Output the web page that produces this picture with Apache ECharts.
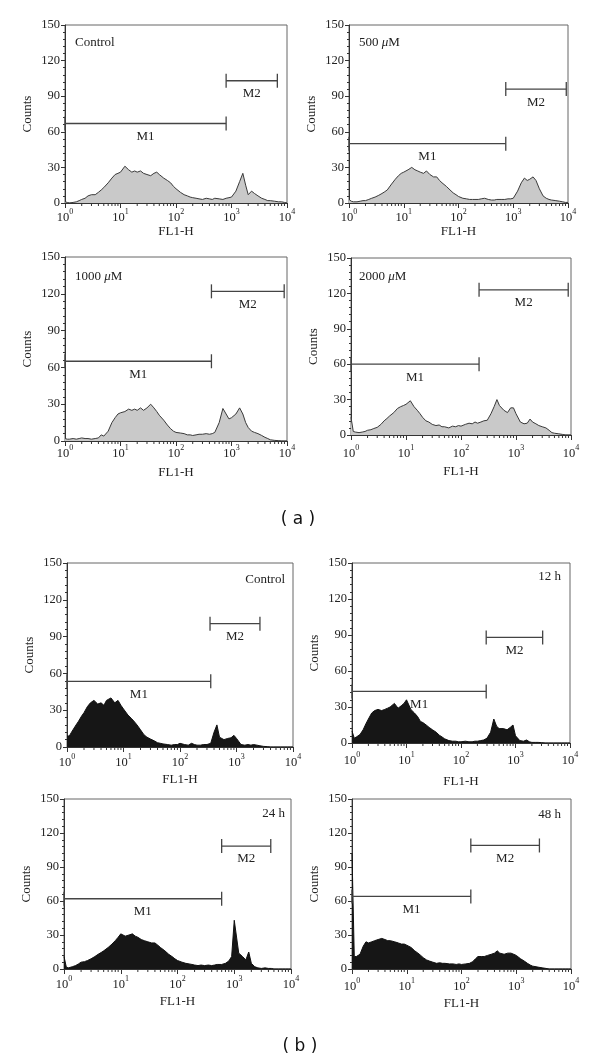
<!DOCTYPE html>
<html><head><meta charset="utf-8">
<script src="https://cdn.jsdelivr.net/npm/echarts@6/dist/echarts.min.js"></script>
<style>html,body{margin:0;padding:0;background:#fff}#c{width:600px;height:1063px}</style>
</head><body><div id="c"></div>
<script>
// FL1-H channel positions (x values of the histogram points)
const channels = [1, 1.1, 1.2, 1.4, 1.6, 1.8, 2, 2.3, 2.6, 3, 3.5, 4, 4.5, 5, 6, 7, 8, 9,
  10, 12, 14, 16, 18, 20, 23, 26, 30, 35, 40, 45, 50, 60, 70, 80, 90,
  100, 120, 140, 160, 180, 200, 230, 260, 300, 350, 400, 450, 500, 600, 700, 800, 900,
  1000, 1200, 1400, 1600, 1800, 2000, 2300, 2600, 3000, 3500, 4000, 4500, 5000, 6000, 7000, 8000, 9000,
  10000];

// (a) panels
const countsControlA = [1, 0.5, 0, 0.5, 1, 2, 3, 4, 6, 7, 7, 9, 11, 13, 17, 21, 24, 25,
  26, 31, 28, 26, 27, 26, 27, 25, 24, 23, 25, 26, 24, 21, 19, 17, 14,
  12, 9, 7, 6, 5, 4.5, 4, 3.5, 3, 4, 3.5, 3, 4, 3.5, 3, 4, 4.5,
  5, 10, 18, 25, 15, 7, 10, 8, 6, 4, 3, 2, 2, 1.5, 1, 1, 0.5,
  0];
const counts500uM = [3, 1.5, 1, 1, 1.5, 2, 2, 3, 4, 5, 6.5, 8, 9.5, 11, 16, 20, 23, 25,
  26, 28, 30, 28, 27, 26, 25, 27, 24, 22, 22, 19, 17, 14, 11, 8.5, 7,
  5.5, 4, 3.5, 3, 3, 3, 3, 3.5, 4, 3, 2.5, 2.5, 3, 3, 3, 3.5, 3.5,
  4, 10, 17, 21, 19, 20, 22, 19, 12, 6, 4, 3, 2.5, 2, 1.5, 1, 0.5,
  0.5];
const counts1000uM = [2, 1.5, 1.5, 2, 1.5, 2, 2.5, 2, 2, 1.5, 2, 2.5, 5, 4, 8, 15, 19, 22,
  23, 24, 26, 25, 26, 25, 27, 25, 27, 30, 27, 24, 21, 17, 13, 10, 8,
  7, 6.5, 6, 5, 5, 4.5, 5, 5.5, 5.5, 6, 5.5, 6, 7, 15, 26.5, 22, 18,
  19, 22, 27, 22, 15, 11, 8, 7, 6, 4.5, 3, 2, 1, 0.5, 0.3, 0, 0,
  0];
const counts2000uM = [15, 3, 2.5, 2, 2.5, 3, 4, 4.5, 5.5, 6.5, 9, 12, 14, 16, 19, 22.5, 24, 25,
  26, 29, 24, 21, 18, 15, 12, 11, 9, 8, 8.5, 7, 7, 6, 7.5, 7, 8,
  7.5, 9, 10, 9.5, 11, 10, 11, 12, 12.5, 18, 24, 30, 25, 21, 19, 23, 23,
  18, 11, 9.5, 10, 13.5, 11, 9.5, 8, 7, 6, 4, 2, 1.5, 1, 0.5, 0, 0,
  0];

// (b) panels
const countsControlB = [9, 9, 12, 17, 21, 25, 28, 33, 36, 38, 35, 36, 34, 38, 40, 36, 38, 34,
  31, 26, 23, 20, 17, 14, 10, 8, 6.5, 5, 3.5, 3, 2.5, 2, 1.5, 2, 2,
  3, 2, 1.5, 3, 2, 1.5, 1.5, 2, 2, 3, 12, 18, 8, 6, 7, 7.5, 9.5,
  7, 2, 1.5, 2, 1.5, 2, 1.5, 1, 0.5, 0.3, 0, 0, 0, 0, 0, 0, 0,
  0];
const counts12h = [10, 4, 5, 7, 11, 16, 20, 25, 27, 28, 27, 28, 29, 30, 33, 29, 31, 33,
  36, 28, 25, 22, 18, 17, 15, 13, 11, 9, 6.5, 5, 3.5, 2, 1.5, 1.5, 1,
  1, 1.5, 1, 1, 1.5, 1.5, 2, 2.5, 4, 9, 20, 14, 12, 12, 11, 13, 15,
  6, 2, 1.5, 2.5, 1, 0.5, 0.5, 0.5, 0.3, 0, 0, 0, 0, 0, 0, 0, 0,
  0];
const counts24h = [11, 1.5, 1, 2, 3, 4.5, 6, 6.5, 7.5, 9, 11, 13, 14.5, 16, 19, 22, 25, 28,
  31, 29, 30, 31, 29, 28, 26, 25, 24, 23, 23, 21, 19, 16, 13, 11, 9,
  7.5, 6, 5, 4.5, 4, 3.5, 3, 3.5, 3, 3.5, 3, 3.5, 4, 4, 5, 7, 11,
  43, 14, 11, 8, 15, 5, 2, 1, 0.5, 1, 0.5, 0.5, 0, 0, 0, 0, 0,
  0];
const counts48h = [102, 11, 11, 13, 20, 24, 23, 24, 25, 26, 27, 26, 25, 25, 24, 23, 22, 22,
  21, 19, 16, 14, 12, 10, 8, 7, 6, 5, 5.5, 5, 5, 4.5, 4.5, 4, 4.5,
  4, 4.5, 5, 6.5, 9, 11, 11, 11, 12, 13, 14, 16, 14, 13, 14, 14, 13,
  12, 9, 7, 5, 3.5, 2.5, 2, 1.5, 1, 0.5, 0, 0, 0, 0, 0, 0, 0,
  0];

// marker gates: [from, to, counts level]
const markerLabels = ['M1', 'M2'];
const gatesControlA = [[1, 800, 67], [800, 6700, 103]];
const gates500uM = [[1, 730, 50], [730, 9300, 96]];
const gates1000uM = [[1, 435, 65], [435, 8900, 122]];
const gates2000uM = [[1, 213, 60], [213, 8900, 123]];
const gatesControlB = [[1, 350, 53.5], [340, 2600, 100.5]];
const gates12h = [[1, 290, 43], [290, 3150, 88]];
const gates24h = [[1, 600, 62], [600, 4400, 108.5]];
const gates48h = [[1, 148, 64], [148, 2650, 109]];

const panelTitles = ['Control', '500 {i|μ}M', '1000 {i|μ}M', '2000 {i|μ}M', 'Control', '12 h', '24 h', '48 h'];
const yTicks = {min: 0, max: 150, interval: 30};
const xMinorTicks = [2, 3, 4, 5, 6, 7, 8, 9, 20, 30, 40, 50, 60, 70, 80, 90,
  200, 300, 400, 500, 600, 700, 800, 900, 2000, 3000, 4000, 5000, 6000, 7000, 8000, 9000];

const panelCounts = [countsControlA, counts500uM, counts1000uM, counts2000uM, countsControlB, counts12h, counts24h, counts48h];
const panelGates = [gatesControlA, gates500uM, gates1000uM, gates2000uM, gatesControlB, gates12h, gates24h, gates48h];

// layout (pixels)
const layout = [
  {l: 65, t: 25, w: 222, h: 178, lm: 5, ng: 16, tx: 75, ty: 43, ta: 'left'},
  {l: 349, t: 25, w: 219, h: 178, lm: 5, ng: 15, tx: 359, ty: 43, ta: 'left'},
  {l: 65, t: 257, w: 222, h: 184, lm: 3, ng: 25, tx: 75, ty: 277, ta: 'left'},
  {l: 351, t: 258, w: 220, h: 177, lm: 9, ng: 30, tx: 359, ty: 277, ta: 'left'},
  {l: 67, t: 563, w: 226, h: 184, lm: 6, ng: 26, tx: 285, ty: 580, ta: 'right'},
  {l: 352, t: 563, w: 218, h: 180, lm: 8, ng: 32, tx: 561, ty: 577, ta: 'right'},
  {l: 64, t: 799, w: 227, h: 170, lm: 6, ng: 26, tx: 285, ty: 814, ta: 'right'},
  {l: 352, t: 799, w: 219, h: 170, lm: 8, ng: 28, tx: 561, ty: 815, ta: 'right'}
];

const SERIF = '"Liberation Serif", "DejaVu Serif", serif';
const TXT = '#222';
const AX = '#333';

const grids = [], xAxes = [], yAxes = [], series = [], graphics = [];
layout.forEach((p, i) => {
  const isA = i < 4;
  grids.push({left: p.l, top: p.t, width: p.w, height: p.h, show: true, borderColor: '#666', borderWidth: 1, backgroundColor: 'transparent', outerBoundsMode: 'none'});
  xAxes.push({
    type: 'log', logBase: 10, min: 1, max: 10000, gridIndex: i,
    splitLine: {show: false},
    axisLine: {lineStyle: {color: AX, width: 1}},
    axisTick: {show: true, length: 5, lineStyle: {color: AX}},
    minorTick: {show: false},
    axisLabel: {
      margin: p.lm, color: TXT,
      formatter: v => '{b|10}{s|' + Math.round(Math.log10(v)) + '}',
      rich: {
        b: {fontSize: 12.5, fontFamily: SERIF, color: TXT, lineHeight: 16, verticalAlign: 'bottom'},
        s: {fontSize: 8, fontFamily: SERIF, color: TXT, lineHeight: 8, verticalAlign: 'top'}
      }
    },
    name: 'FL1-H', nameLocation: 'middle', nameGap: p.ng,
    nameTextStyle: {fontFamily: SERIF, fontSize: 13, color: TXT}
  });
  yAxes.push({
    type: 'value', min: yTicks.min, max: yTicks.max, interval: yTicks.interval, gridIndex: i,
    splitLine: {show: false},
    axisLine: {show: true, lineStyle: {color: AX, width: 1}},
    axisTick: {show: true, length: 4, lineStyle: {color: AX}},
    minorTick: {show: true, splitNumber: 5, length: 2, lineStyle: {color: AX}},
    axisLabel: {margin: 5, color: TXT, fontFamily: SERIF, fontSize: 12.5},
    name: 'Counts', nameLocation: 'middle', nameRotate: 90, nameGap: 31,
    nameTextStyle: {fontFamily: SERIF, fontSize: 13, color: TXT}
  });
  const counts = panelCounts[i];
  series.push({
    type: 'line', xAxisIndex: i, yAxisIndex: i, symbol: 'none', silent: true, z: 3,
    data: channels.map((x, k) => [x, counts[k]]),
    lineStyle: {color: isA ? '#3a3a3a' : '#111', width: 1},
    areaStyle: {color: isA ? '#c9c9c9' : '#161616', opacity: 1, origin: 'start'}
  });
  series.push({
    type: 'custom', xAxisIndex: i, yAxisIndex: i, silent: true, z: 4,
    data: panelGates[i], encode: {x: [0, 1], y: 2},
    renderItem: (params, api) => {
      const a = api.coord([api.value(0), api.value(2)]);
      const b = api.coord([api.value(1), api.value(2)]);
      const st = {stroke: '#444', lineWidth: 1.3};
      return {type: 'group', children: [
        {type: 'line', shape: {x1: a[0], y1: a[1], x2: b[0], y2: b[1]}, style: st},
        {type: 'line', shape: {x1: a[0], y1: a[1] - 7, x2: a[0], y2: a[1] + 7}, style: st},
        {type: 'line', shape: {x1: b[0], y1: b[1] - 7, x2: b[0], y2: b[1] + 7}, style: st},
        {type: 'text', x: (a[0] + b[0]) / 2, y: a[1] + 13,
          style: {text: markerLabels[params.dataIndex], fill: TXT, fontSize: 13, fontFamily: SERIF, align: 'center', verticalAlign: 'middle'}}
      ]};
    }
  });
  series.push({
    type: 'custom', xAxisIndex: i, yAxisIndex: i, silent: true, clip: false, z: 4,
    data: xMinorTicks.map(v => [v, 0]), encode: {x: 0, y: 1},
    renderItem: (params, api) => {
      const c = api.coord([api.value(0), 0]);
      return {type: 'line', shape: {x1: c[0], y1: c[1], x2: c[0], y2: c[1] + 3}, style: {stroke: AX, lineWidth: 1}};
    }
  });
  graphics.push({
    type: 'text', x: p.tx, y: p.ty, z: 10,
    style: {text: panelTitles[i], fill: TXT, fontSize: 13, fontFamily: SERIF, align: p.ta, verticalAlign: 'middle',
      rich: {i: {fontStyle: 'italic', fontSize: 13, fontFamily: SERIF, fill: TXT}}}
  });
});
graphics.push({type: 'text', x: 298, y: 520, style: {text: '( a )', fill: '#111', fontSize: 17, fontFamily: '"DejaVu Sans", sans-serif', align: 'center', verticalAlign: 'middle'}});
graphics.push({type: 'text', x: 300, y: 1047, style: {text: '( b )', fill: '#111', fontSize: 17, fontFamily: '"DejaVu Sans", sans-serif', align: 'center', verticalAlign: 'middle'}});

const chart = echarts.init(document.getElementById('c'), null, {renderer: 'canvas'});
chart.setOption({
  animation: false,
  backgroundColor: '#fff',
  grid: grids, xAxis: xAxes, yAxis: yAxes, series: series, graphic: graphics
});
</script></body></html>
